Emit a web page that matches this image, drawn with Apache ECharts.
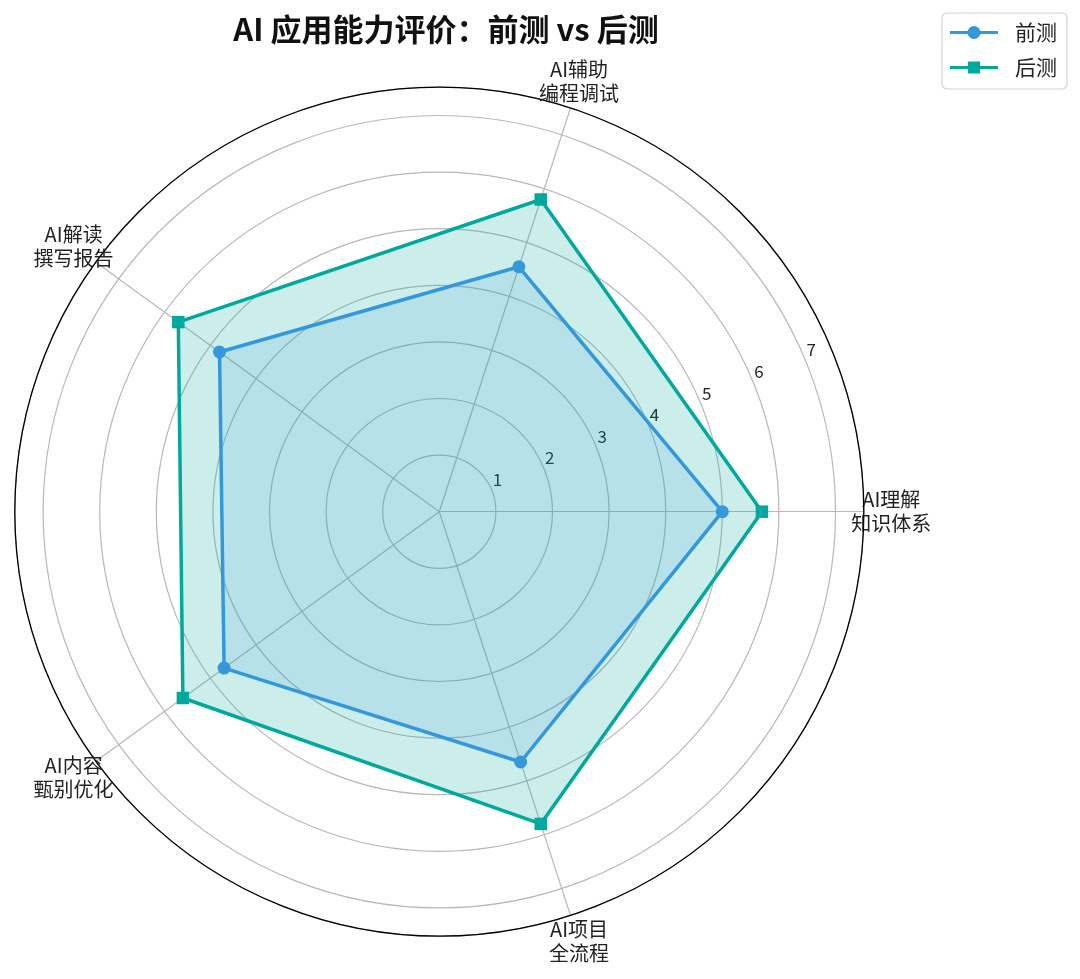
<!DOCTYPE html>
<html>
<head>
<meta charset="utf-8">
<script src="https://cdn.jsdelivr.net/npm/echarts@6/dist/echarts.min.js"></script>
<style>
html,body{margin:0;padding:0;background:#fff;}
#chart{width:1080px;height:979px;}
</style>
</head>
<body>
<div id="chart"></div>
<script>
const titleText = 'AI 应用能力评价：前测 vs 后测';
const categories = ['AI理解\n知识体系', 'AI辅助\n编程调试', 'AI解读\n撰写报告', 'AI内容\n甄别优化', 'AI项目\n全流程'];
const seriesNames = ['前测', '后测'];
const preValues = [5.0, 4.55, 4.8, 4.7, 4.65];
const postValues = [5.7, 5.8, 5.7, 5.6, 5.8];
const rMax = 7.5;
const tickInterval = 1;

const FONT = '"Noto Sans CJK SC", "Noto Sans", sans-serif';
const BLUE = '#3498db';
const TEAL = '#00a99d';
const CENTER = [439.3, 511.7];
const RADIUS = 424.5;

const chart = echarts.init(document.getElementById('chart'), null, {renderer: 'canvas'});

const option = {
  backgroundColor: '#ffffff',
  animation: false,
  textStyle: {fontFamily: FONT},
  title: {
    text: titleText,
    left: 441,
    top: 9,
    textAlign: 'center',
    textStyle: {fontFamily: FONT, fontSize: 31, fontWeight: 'bold', color: '#111'}
  },
  legend: {
    orient: 'vertical',
    right: 13,
    top: 13,
    padding: [9, 10, 11, 8],
    itemGap: 14,
    itemWidth: 48,
    itemHeight: 14,
    borderColor: '#d4d4d4',
    borderWidth: 1.2,
    borderRadius: 5,
    backgroundColor: '#fff',
    textStyle: {fontFamily: FONT, fontSize: 21, color: '#222', padding: [0, 0, 0, 12]},
    data: [
      {name: seriesNames[0], icon: 'path://M0,5.5L48,5.5L48,8.5L0,8.5Z M17.5,7A6.5,6.5,0,1,1,30.5,7A6.5,6.5,0,1,1,17.5,7Z'},
      {name: seriesNames[1], icon: 'path://M0,5.5L48,5.5L48,8.5L0,8.5Z M18,1L30,1L30,13L18,13Z'}
    ]
  },
  polar: {center: CENTER, radius: RADIUS},
  angleAxis: {
    type: 'value', min: 0, max: 360, startAngle: 22.5, clockwise: false,
    z: 5,
    axisLine: {show: true, lineStyle: {color: '#000', width: 1.3}},
    axisTick: {show: false}, axisLabel: {show: false}, splitLine: {show: false}
  },
  radiusAxis: {
    type: 'value', min: 0, max: rMax, interval: tickInterval,
    z: 1,
    axisLine: {show: false}, axisTick: {show: false},
    splitLine: {show: true, lineStyle: {color: '#b8b8b8', width: 1.2}},
    axisLabel: {
      show: true, margin: 2, align: 'left', verticalAlign: 'bottom', padding: [0, 0, 0, 2],
      fontFamily: FONT, fontSize: 17, color: '#222',
      formatter: function (v) { return (v > 0 && Number.isInteger(v)) ? String(v) : ''; }
    }
  },
  radar: {
    center: CENTER,
    radius: RADIUS,
    startAngle: 0,
    shape: 'circle',
    splitNumber: 1,
    nameGap: 27.5,
    indicator: categories.map(function (c) { return {name: c, min: 0, max: rMax}; }),
    axisName: {color: '#222', fontFamily: FONT, fontSize: 20, lineHeight: 24, align: 'center', verticalAlign: 'middle'},
    axisLine: {show: true, lineStyle: {color: '#b8b8b8', width: 1.2}},
    axisTick: {show: false},
    axisLabel: {show: false},
    splitLine: {show: false},
    splitArea: {show: false}
  },
  series: [
    {
      name: seriesNames[0], type: 'radar', z: 4,
      symbol: 'circle', symbolSize: 13,
      lineStyle: {color: BLUE, width: 3.5},
      itemStyle: {color: BLUE},
      areaStyle: {color: BLUE, opacity: 0.14},
      data: [{name: seriesNames[0], value: preValues}]
    },
    {
      name: seriesNames[1], type: 'radar', z: 3,
      symbol: 'rect', symbolSize: 12.5,
      lineStyle: {color: TEAL, width: 3.5},
      itemStyle: {color: TEAL},
      areaStyle: {color: TEAL, opacity: 0.2},
      data: [{name: seriesNames[1], value: postValues}]
    }
  ]
};
chart.setOption(option);
</script>
</body>
</html>
